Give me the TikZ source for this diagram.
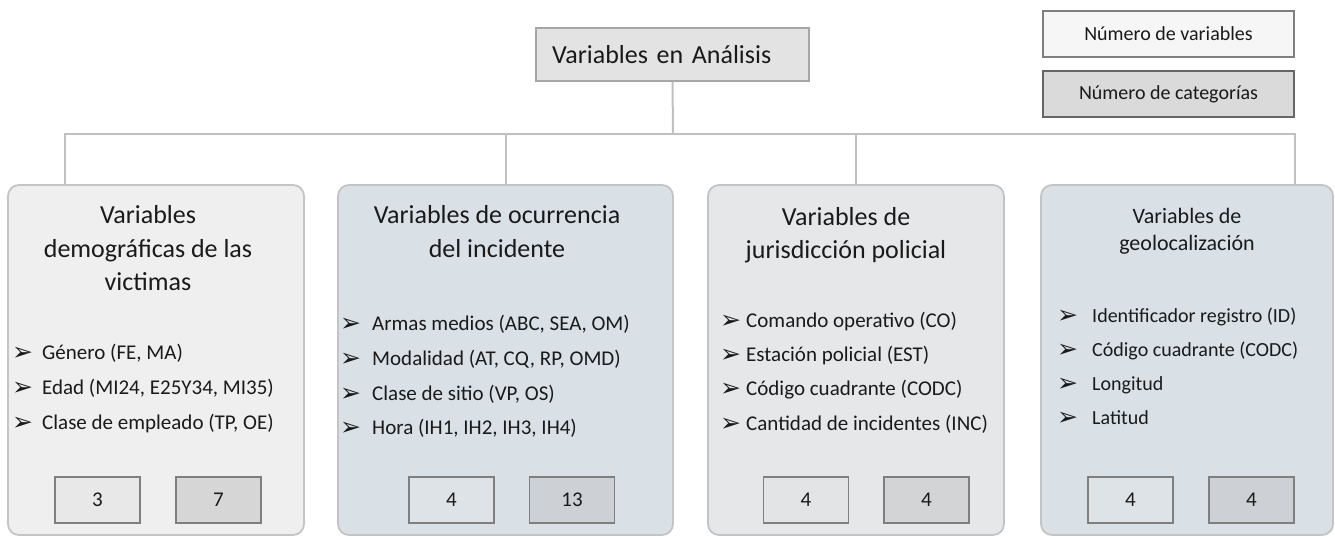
\documentclass[tikz,border=0pt]{standalone}
\usepackage{fontspec}
\setmainfont{Carlito}
\newfontfamily\symfont{DejaVu Sans}
\definecolor{pA}{HTML}{EFEFEF}
\definecolor{pB}{HTML}{D9E0E6}
\definecolor{pC}{HTML}{E6E7E9}
\definecolor{pborder}{HTML}{C3C4C6}
\definecolor{conncol}{HTML}{BFC0C2}
\definecolor{numborder}{HTML}{7F7F7F}
\definecolor{vA}{HTML}{E8E8E8}
\definecolor{cA}{HTML}{D6D6D6}
\definecolor{vB}{HTML}{DEE3E7}
\definecolor{cB}{HTML}{CDD1D5}
\definecolor{vC}{HTML}{E3E4E6}
\definecolor{cC}{HTML}{D3D4D6}
\definecolor{rootfill}{HTML}{E3E3E3}
\definecolor{rootborder}{HTML}{A6A6A6}
\definecolor{legV}{HTML}{F6F6F6}
\definecolor{legC}{HTML}{DADADA}
\definecolor{txt}{HTML}{1A1A1A}
\newcommand\arrmark[1]{\makebox[#1][l]{\raisebox{-1pt}{\symfont\fontsize{25}{25}\selectfont ➢}}}
\begin{document}
\begin{tikzpicture}[x=1pt,y=-1pt,
  panel/.style={draw=pborder, line width=1.8pt, rounded corners=11pt, inner sep=0pt},
  conn/.style={draw=conncol, line width=2pt},
  numbox/.style={draw=numborder, line width=1.4pt, minimum width=85pt, minimum height=46pt, inner sep=0pt, text=txt, font=\fontsize{21}{21}\selectfont},
  legbox/.style={draw=numborder, line width=1.4pt, minimum width=251pt, minimum height=46pt, inner sep=0pt, text=txt, font=\fontsize{20}{20}\selectfont},
  ttl/.style={anchor=base, inner sep=0pt, text=txt, font=\fontsize{26}{26}\selectfont},
  ttlsmall/.style={anchor=base, inner sep=0pt, text=txt, font=\fontsize{22}{22}\selectfont},
  item/.style={anchor=base west, inner sep=0pt, text=txt, font=\fontsize{21}{21}\selectfont},
  itemsmall/.style={anchor=base west, inner sep=0pt, text=txt, font=\fontsize{20}{20}\selectfont},
]
\useasboundingbox (0,0) rectangle (1335,539);
\fill[white] (0,0) rectangle (1335,539);

% root
\node[draw=rootborder, fill=rootfill, line width=1.4pt, minimum height=53pt, text width=241pt, inner xsep=16pt, inner ysep=0pt, align=left, text=txt, font=\fontsize{26}{26}\selectfont] (root) at (672.5,54.5) {Variables en Análisis};

% legend
\node[legbox, fill=legV] (legv) at (1168.5,34) {Número de variables};
\node[legbox, fill=legC, draw=black!60] (legc) at (1168.5,94) {Número de categorías};

% panels
\node[panel, fill=pA, minimum width=296pt, minimum height=350pt] (p1) at (156,360) {};
\node[panel, fill=pB, minimum width=335pt, minimum height=350pt] (p2) at (505.5,360) {};
\node[panel, fill=pC, minimum width=296pt, minimum height=350pt] (p3) at (856,360) {};
\node[panel, fill=pB, minimum width=292pt, minimum height=350pt] (p4) at (1187,360) {};

% connectors
\coordinate (bus) at (673,134);
\coordinate (d1) at (65,134);
\coordinate (d2) at (506,134);
\coordinate (d3) at (856,134);
\coordinate (d4) at (1295,134);
\draw[conn] (root.south) -- (bus);
\draw[conn] (p1.north -| d1) -- (d1) -- (d4) -- (p4.north -| d4);
\draw[conn] (d2) -- (p2.north -| d2);
\draw[conn] (d3) -- (p3.north -| d3);

% titles
\node[ttl] (t1a) at (148,223) {Variables};
\node[ttl] (t1b) at (148,257) {demográficas de las};
\node[ttl] (t1c) at (148,290) {victimas};
\node[ttl] (t2a) at (497,223) {Variables de ocurrencia};
\node[ttl] (t2b) at (497,257) {del incidente};
\node[ttl] (t3a) at (846,225) {Variables de};
\node[ttl] (t3b) at (846,258) {jurisdicción policial};
\node[ttlsmall] (t4a) at (1187,223) {Variables de};
\node[ttlsmall] (t4b) at (1187,250) {geolocalización};

% items
\node[item] (i11) at (12,359) {\arrmark{30pt}Género (FE, MA)};
\node[item] (i12) at (12,394) {\arrmark{30pt}Edad (MI24, E25Y34, MI35)};
\node[item] (i13) at (12,429) {\arrmark{30pt}Clase de empleado (TP, OE)};

\node[item] (i21) at (340,330) {\arrmark{32pt}Armas medios (ABC, SEA, OM)};
\node[item] (i22) at (340,365) {\arrmark{32pt}Modalidad (AT, CQ, RP, OMD)};
\node[item] (i23) at (340,400) {\arrmark{32pt}Clase de sitio (VP, OS)};
\node[item] (i24) at (340,434) {\arrmark{32pt}Hora (IH1, IH2, IH3, IH4)};

\node[item] (i31) at (720,327) {\arrmark{26pt}Comando operativo (CO)};
\node[item] (i32) at (720,361) {\arrmark{26pt}Estación policial (EST)};
\node[item] (i33) at (720,395) {\arrmark{26pt}Código cuadrante (CODC)};
\node[item] (i34) at (720,430) {\arrmark{26pt}Cantidad de incidentes (INC)};

\node[itemsmall] (i41) at (1057,322) {\arrmark{35pt}Identificador registro (ID)};
\node[itemsmall] (i42) at (1057,356) {\arrmark{35pt}Código cuadrante (CODC)};
\node[itemsmall] (i43) at (1057,390) {\arrmark{35pt}Longitud};
\node[itemsmall] (i44) at (1057,424) {\arrmark{35pt}Latitud};

% numbers
\node[numbox, fill=vA] (n1v) at (97.5,500) {3};
\node[numbox, fill=cA] (n1c) at (218.5,500) {7};
\node[numbox, fill=vB] (n2v) at (451.5,500) {4};
\node[numbox, fill=cB] (n2c) at (572,500) {13};
\node[numbox, fill=vC] (n3v) at (806,500) {4};
\node[numbox, fill=cC] (n3c) at (926.5,500) {4};
\node[numbox, fill=vB] (n4v) at (1130.5,500) {4};
\node[numbox, fill=cB] (n4c) at (1251.5,500) {4};
\end{tikzpicture}
\end{document}
